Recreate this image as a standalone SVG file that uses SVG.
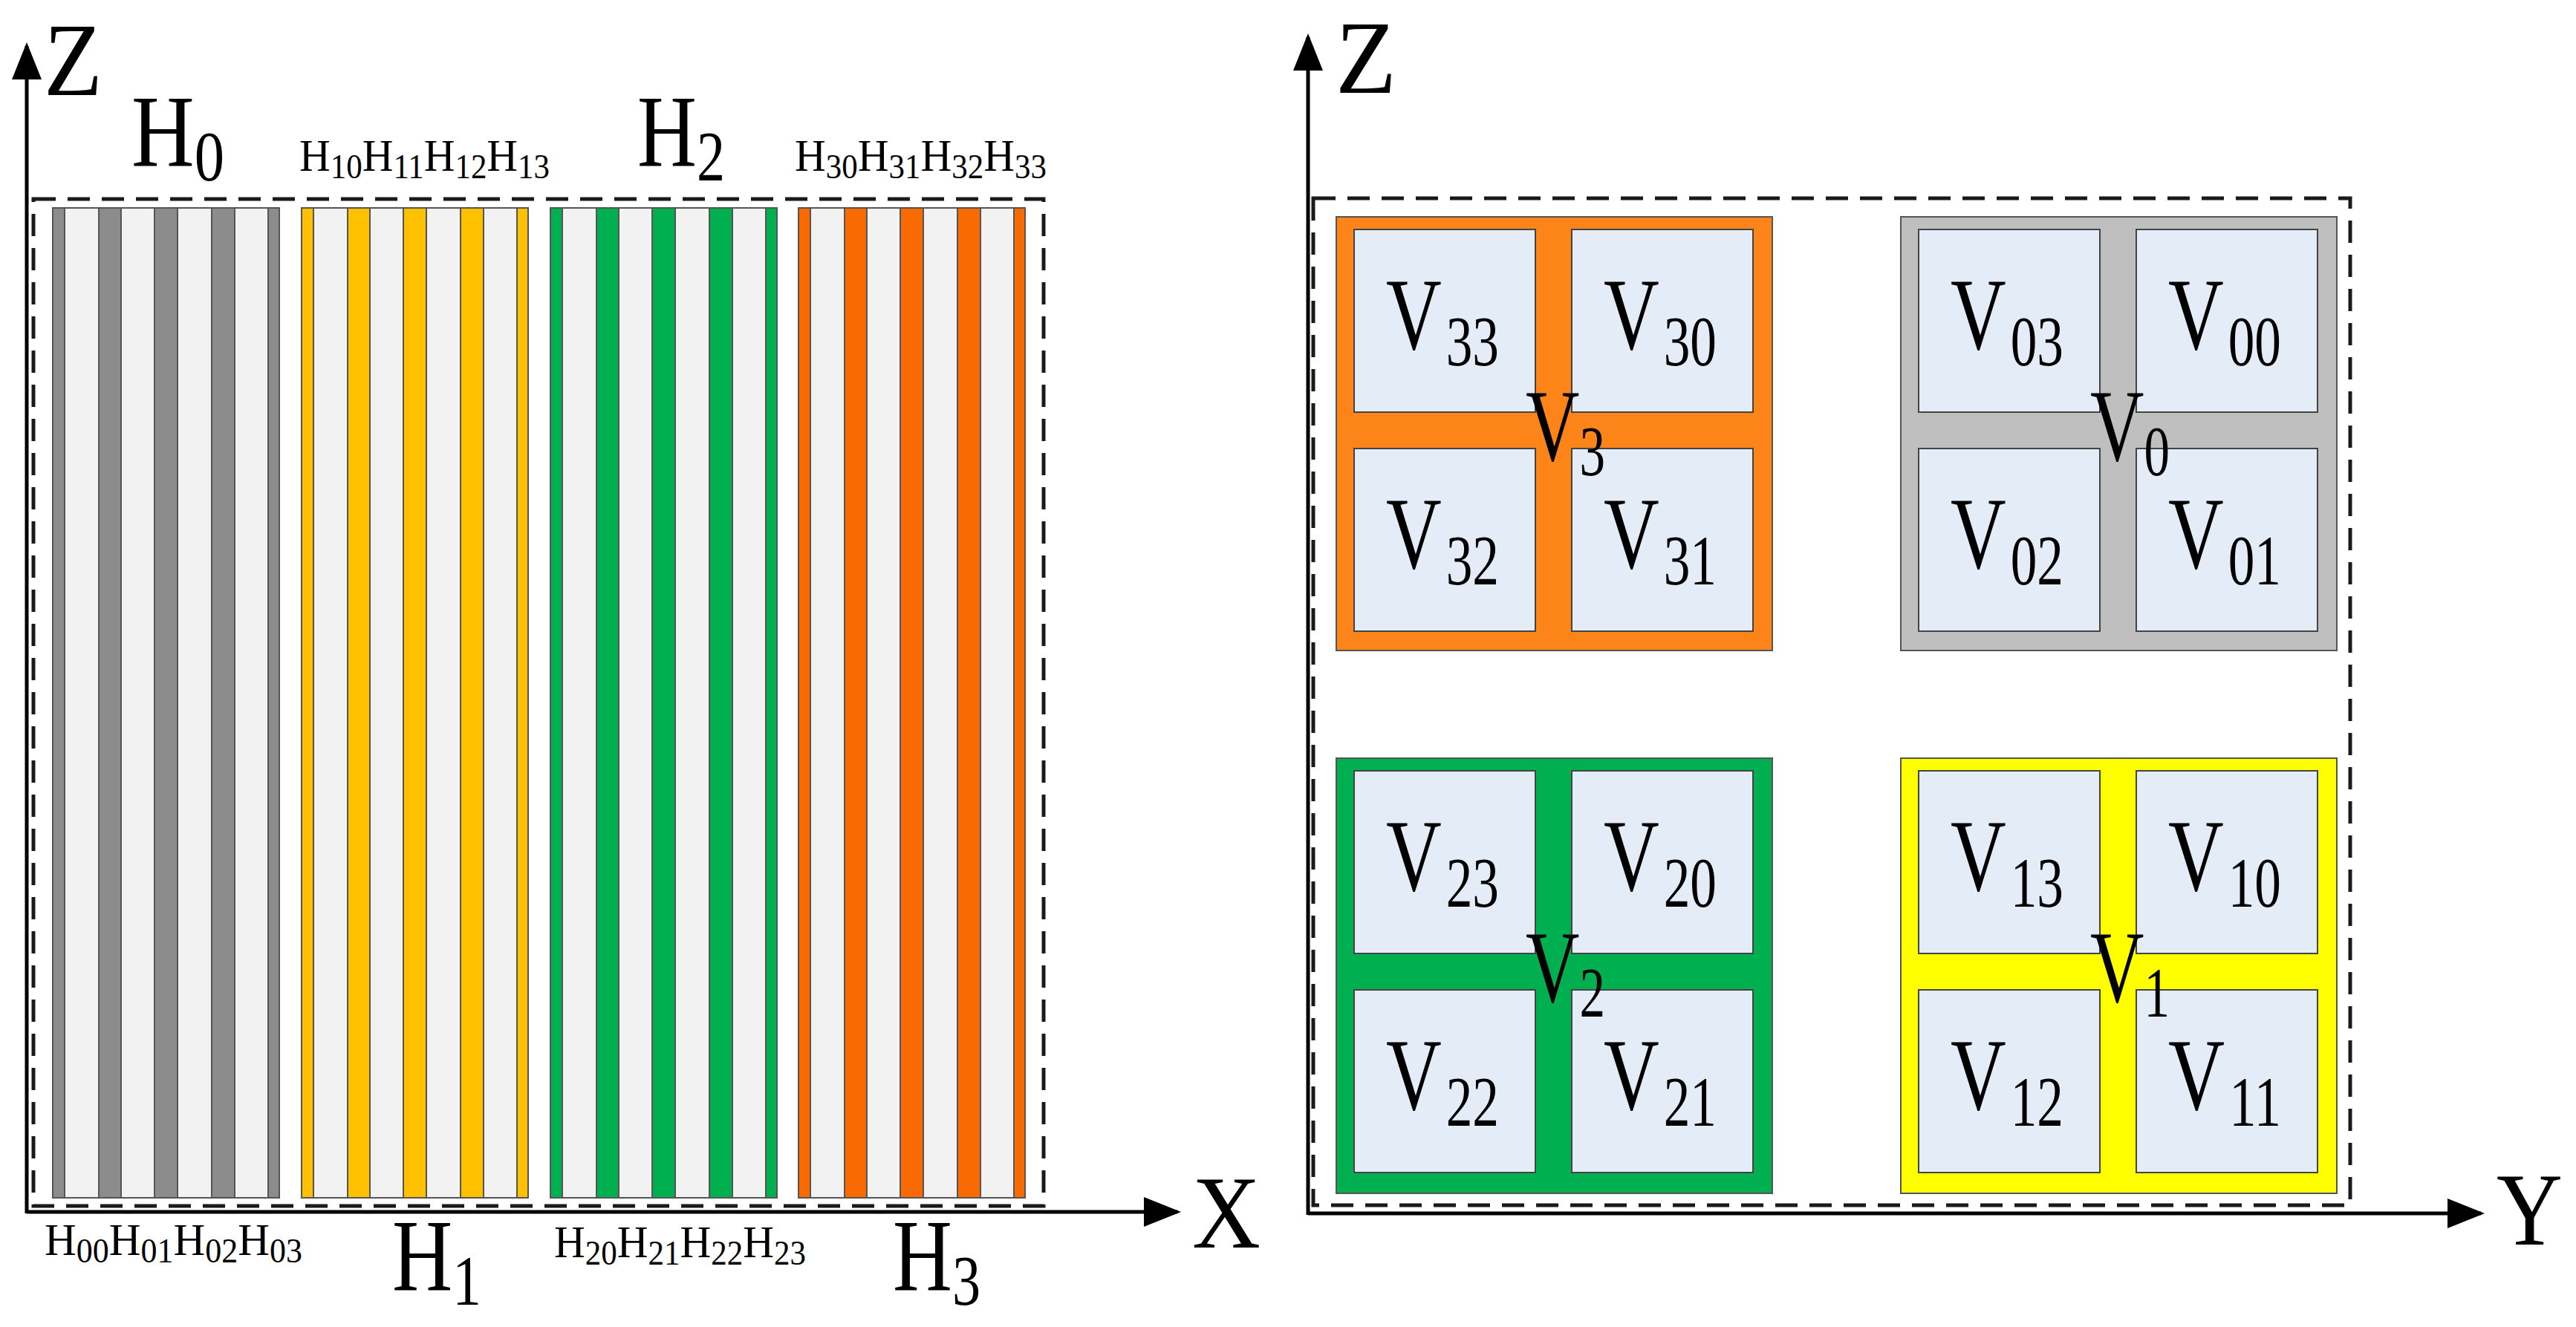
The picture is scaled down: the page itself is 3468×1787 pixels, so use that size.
<svg xmlns="http://www.w3.org/2000/svg" xmlns:xlink="http://www.w3.org/1999/xlink" width="3468" height="1787" viewBox="0 0 3468 1787">
<style>
text{font-family:"Liberation Serif","DejaVu Serif",serif;fill:#000}
.axis{stroke:#000;stroke-width:5;fill:none}
.dash{stroke:#1a1a1a;stroke-width:5;fill:none;stroke-dasharray:30 16}
.light{fill:#f2f2f2;stroke:#555;stroke-width:2}
.cell{fill:#e3ecf7;stroke:#444;stroke-width:2}
.blk{stroke:#555;stroke-width:2}
.big{font-size:138px}
.bsub{font-size:95px}
.sm{font-size:62px}
.ssub{font-size:46px}
</style>
<defs>
<marker id="arr" markerWidth="10" markerHeight="8" refX="9" refY="4" orient="auto" markerUnits="strokeWidth">
<path d="M0,0 L10,4 L0,8 z" fill="#000"/>
</marker>
<g id="stripes">
<rect class="light" x="0" y="0" width="305" height="1333"/>
<rect class="blk" fill="currentColor" x="0" y="0" width="16" height="1333"/>
<rect class="blk" fill="currentColor" x="62" y="0" width="30" height="1333"/>
<rect class="blk" fill="currentColor" x="137" y="0" width="31" height="1333"/>
<rect class="blk" fill="currentColor" x="214" y="0" width="31" height="1333"/>
<rect class="blk" fill="currentColor" x="290" y="0" width="15" height="1333"/>
</g>
<g id="cells">
<rect class="cell" x="24" y="17" width="244" height="246"/>
<rect class="cell" x="317" y="17" width="244" height="246"/>
<rect class="cell" x="24" y="312" width="244" height="246"/>
<rect class="cell" x="317" y="312" width="244" height="246"/>
</g>
</defs>

<g id="connectors">
<line class="axis" x1="36" y1="1634" x2="36" y2="62" marker-end="url(#arr)"/>
<line class="axis" x1="36" y1="1632" x2="1585" y2="1632" marker-end="url(#arr)"/>
<line class="axis" x1="1761" y1="1636" x2="1761" y2="50" marker-end="url(#arr)"/>
<line class="axis" x1="1761" y1="1634" x2="3340" y2="1634" marker-end="url(#arr)"/>
</g>

<g id="left-frame"><rect class="dash" x="45" y="268" width="1360" height="1356"/></g>
<g id="right-frame"><rect class="dash" x="1768" y="267" width="1396" height="1356"/></g>

<g id="axis-labels">
<text x="59" y="128" font-size="140" textLength="79" lengthAdjust="spacingAndGlyphs">Z</text>
<text x="1605" y="1680" font-size="140" textLength="92" lengthAdjust="spacingAndGlyphs">X</text>
<text x="1798" y="125" font-size="140" textLength="82" lengthAdjust="spacingAndGlyphs">Z</text>
<text x="3361" y="1676" font-size="140" textLength="89" lengthAdjust="spacingAndGlyphs">Y</text>
</g>

<g id="H0"><use xlink:href="#stripes" x="71" y="280" style="color:#8c8c8c"/>
<text x="177" y="223" textLength="125" lengthAdjust="spacingAndGlyphs"><tspan class="big">H</tspan><tspan class="bsub" dy="20">0</tspan></text>
<text x="60" y="1690" textLength="347" lengthAdjust="spacingAndGlyphs"><tspan class="sm">H</tspan><tspan class="ssub" dy="10">00</tspan><tspan class="sm" dy="-10">H</tspan><tspan class="ssub" dy="10">01</tspan><tspan class="sm" dy="-10">H</tspan><tspan class="ssub" dy="10">02</tspan><tspan class="sm" dy="-10">H</tspan><tspan class="ssub" dy="10">03</tspan></text>
</g>
<g id="H1"><use xlink:href="#stripes" x="406" y="280" style="color:#ffc000"/>
<text x="403" y="230" textLength="337" lengthAdjust="spacingAndGlyphs"><tspan class="sm">H</tspan><tspan class="ssub" dy="10">10</tspan><tspan class="sm" dy="-10">H</tspan><tspan class="ssub" dy="10">11</tspan><tspan class="sm" dy="-10">H</tspan><tspan class="ssub" dy="10">12</tspan><tspan class="sm" dy="-10">H</tspan><tspan class="ssub" dy="10">13</tspan></text>
<text x="528" y="1737" textLength="120" lengthAdjust="spacingAndGlyphs"><tspan class="big">H</tspan><tspan class="bsub" dy="20">1</tspan></text>
</g>
<g id="H2"><use xlink:href="#stripes" x="741" y="280" style="color:#00b050"/>
<text x="858" y="223" textLength="118" lengthAdjust="spacingAndGlyphs"><tspan class="big">H</tspan><tspan class="bsub" dy="20">2</tspan></text>
<text x="746" y="1693" textLength="339" lengthAdjust="spacingAndGlyphs"><tspan class="sm">H</tspan><tspan class="ssub" dy="10">20</tspan><tspan class="sm" dy="-10">H</tspan><tspan class="ssub" dy="10">21</tspan><tspan class="sm" dy="-10">H</tspan><tspan class="ssub" dy="10">22</tspan><tspan class="sm" dy="-10">H</tspan><tspan class="ssub" dy="10">23</tspan></text>
</g>
<g id="H3"><use xlink:href="#stripes" x="1075" y="280" style="color:#f96b00"/>
<text x="1070" y="230" textLength="339" lengthAdjust="spacingAndGlyphs"><tspan class="sm">H</tspan><tspan class="ssub" dy="10">30</tspan><tspan class="sm" dy="-10">H</tspan><tspan class="ssub" dy="10">31</tspan><tspan class="sm" dy="-10">H</tspan><tspan class="ssub" dy="10">32</tspan><tspan class="sm" dy="-10">H</tspan><tspan class="ssub" dy="10">33</tspan></text>
<text x="1202" y="1737" textLength="118" lengthAdjust="spacingAndGlyphs"><tspan class="big">H</tspan><tspan class="bsub" dy="20">3</tspan></text>
</g>

<g id="V3" transform="translate(1799,292)">
<rect class="blk" fill="#fd8418" width="587" height="584"/><use xlink:href="#cells"/>
<text x="67" y="178" textLength="152" lengthAdjust="spacingAndGlyphs"><tspan class="big">V</tspan><tspan class="bsub" dx="8" dy="22">33</tspan></text>
<text x="360" y="178" textLength="152" lengthAdjust="spacingAndGlyphs"><tspan class="big">V</tspan><tspan class="bsub" dx="8" dy="22">30</tspan></text>
<text x="67" y="473" textLength="152" lengthAdjust="spacingAndGlyphs"><tspan class="big">V</tspan><tspan class="bsub" dx="8" dy="22">32</tspan></text>
<text x="360" y="473" textLength="152" lengthAdjust="spacingAndGlyphs"><tspan class="big">V</tspan><tspan class="bsub" dx="8" dy="22">31</tspan></text>
<text x="255" y="328" textLength="107" lengthAdjust="spacingAndGlyphs"><tspan class="big">V</tspan><tspan class="bsub" dy="20">3</tspan></text>
</g>
<g id="V0" transform="translate(2559,292)">
<rect class="blk" fill="#bfbfbf" width="587" height="584"/><use xlink:href="#cells"/>
<text x="67" y="178" textLength="152" lengthAdjust="spacingAndGlyphs"><tspan class="big">V</tspan><tspan class="bsub" dx="8" dy="22">03</tspan></text>
<text x="360" y="178" textLength="152" lengthAdjust="spacingAndGlyphs"><tspan class="big">V</tspan><tspan class="bsub" dx="8" dy="22">00</tspan></text>
<text x="67" y="473" textLength="152" lengthAdjust="spacingAndGlyphs"><tspan class="big">V</tspan><tspan class="bsub" dx="8" dy="22">02</tspan></text>
<text x="360" y="473" textLength="152" lengthAdjust="spacingAndGlyphs"><tspan class="big">V</tspan><tspan class="bsub" dx="8" dy="22">01</tspan></text>
<text x="255" y="328" textLength="107" lengthAdjust="spacingAndGlyphs"><tspan class="big">V</tspan><tspan class="bsub" dy="20">0</tspan></text>
</g>
<g id="V2" transform="translate(1799,1021)">
<rect class="blk" fill="#00b050" width="587" height="586"/><use xlink:href="#cells"/>
<text x="67" y="178" textLength="152" lengthAdjust="spacingAndGlyphs"><tspan class="big">V</tspan><tspan class="bsub" dx="8" dy="22">23</tspan></text>
<text x="360" y="178" textLength="152" lengthAdjust="spacingAndGlyphs"><tspan class="big">V</tspan><tspan class="bsub" dx="8" dy="22">20</tspan></text>
<text x="67" y="473" textLength="152" lengthAdjust="spacingAndGlyphs"><tspan class="big">V</tspan><tspan class="bsub" dx="8" dy="22">22</tspan></text>
<text x="360" y="473" textLength="152" lengthAdjust="spacingAndGlyphs"><tspan class="big">V</tspan><tspan class="bsub" dx="8" dy="22">21</tspan></text>
<text x="255" y="328" textLength="107" lengthAdjust="spacingAndGlyphs"><tspan class="big">V</tspan><tspan class="bsub" dy="20">2</tspan></text>
</g>
<g id="V1" transform="translate(2559,1021)">
<rect class="blk" fill="#ffff00" width="587" height="586"/><use xlink:href="#cells"/>
<text x="67" y="178" textLength="152" lengthAdjust="spacingAndGlyphs"><tspan class="big">V</tspan><tspan class="bsub" dx="8" dy="22">13</tspan></text>
<text x="360" y="178" textLength="152" lengthAdjust="spacingAndGlyphs"><tspan class="big">V</tspan><tspan class="bsub" dx="8" dy="22">10</tspan></text>
<text x="67" y="473" textLength="152" lengthAdjust="spacingAndGlyphs"><tspan class="big">V</tspan><tspan class="bsub" dx="8" dy="22">12</tspan></text>
<text x="360" y="473" textLength="152" lengthAdjust="spacingAndGlyphs"><tspan class="big">V</tspan><tspan class="bsub" dx="8" dy="22">11</tspan></text>
<text x="255" y="328" textLength="107" lengthAdjust="spacingAndGlyphs"><tspan class="big">V</tspan><tspan class="bsub" dy="20">1</tspan></text>
</g>
</svg>
